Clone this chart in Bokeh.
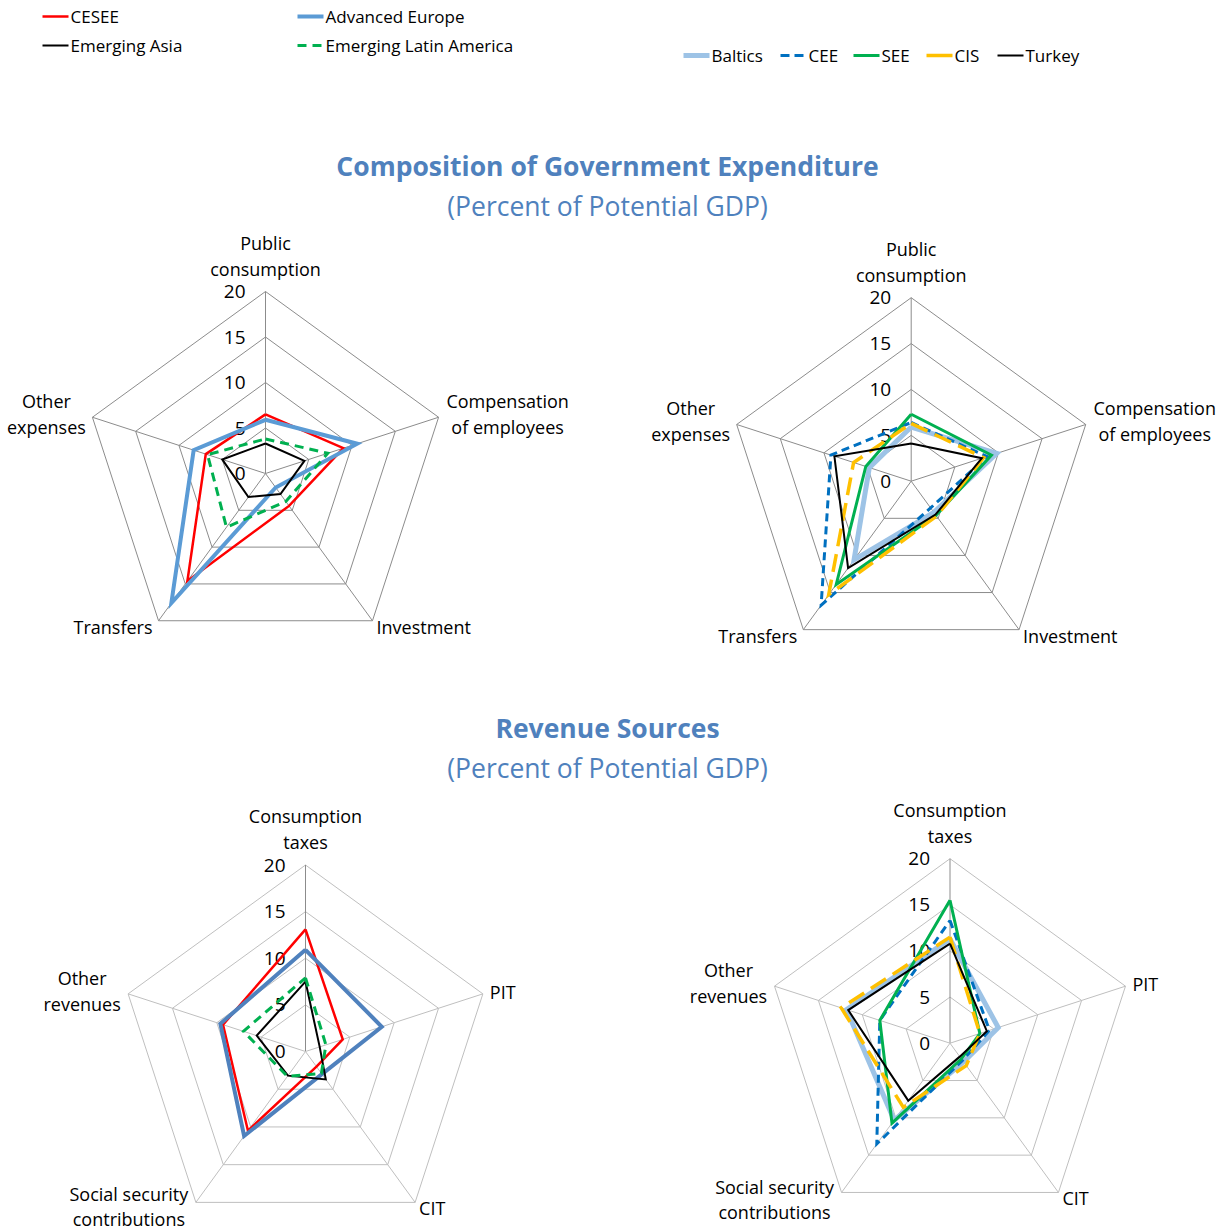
import numpy as np
from bokeh.plotting import figure
from bokeh.models import Range1d
from bokeh.embed import file_html
from bokeh.resources import INLINE
from bokeh.core.properties import value

# ---------------- data ----------------
exp_axes = ["Public\nconsumption", "Compensation\nof employees", "Investment", "Transfers", "Other\nexpenses"]
rev_axes = ["Consumption\ntaxes", "PIT", "CIT", "Social security\ncontributions", "Other\nrevenues"]
tick_vals = [0, 5, 10, 15, 20]
tick_labels = ["0", "5", "10", "15", "20"]

# Expenditure (percent of potential GDP) - regional comparison
exp_cesee = [6.5, 9.0, 4.4, 14.6, 6.9]
exp_adv_europe = [5.9, 10.6, 1.9, 17.6, 8.3]
exp_em_asia = [3.3, 4.5, 2.8, 3.2, 5.0]
exp_em_latam = [3.8, 7.2, 3.8, 7.3, 6.7]

# Expenditure - CESEE subregions
exp_baltics = [5.9, 9.8, 4.2, 10.6, 4.8]
exp_cee = [6.4, 8.7, 3.6, 16.7, 9.2]
exp_see = [7.3, 9.2, 4.6, 13.9, 5.2]
exp_cis = [6.3, 8.3, 4.7, 15.3, 6.6]
exp_turkey = [4.1, 8.1, 4.5, 11.7, 8.8]

# Revenue - regional comparison
rev_cesee = [13.1, 4.2, 2.0, 10.5, 9.3]
rev_adv_europe = [10.9, 8.6, 3.0, 11.2, 9.6]
rev_em_asia = [7.5, 1.6, 3.7, 3.2, 5.5]
rev_em_latam = [7.9, 2.3, 2.9, 3.3, 7.0]

# Revenue - CESEE subregions
rev_baltics = [11.3, 5.5, 2.5, 10.3, 11.8]
rev_cee = [13.3, 4.5, 2.3, 13.5, 8.0]
rev_see = [15.5, 3.4, 2.1, 10.7, 8.0]
rev_cis = [11.5, 3.4, 3.0, 8.6, 12.4]
rev_turkey = [10.8, 4.2, 1.8, 7.7, 11.6]

# ---------------- styles ----------------
FONT = "Open Sans"
TITLE_COLOR = "#4F81BD"
S = {
    "CESEE": dict(color="#FF0000", width=2.5, dash="solid"),
    "Advanced Europe": dict(color="#5B9BD5", width=4, dash="solid"),
    "Advanced Europe b": dict(color="#4F81BD", width=4, dash="solid"),
    "Emerging Asia": dict(color="#000000", width=2, dash="solid"),
    "Emerging Latin America": dict(color="#00B050", width=3, dash="9 6"),
    "Baltics": dict(color="#9DC3E6", width=5, dash="solid"),
    "CEE": dict(color="#0070C0", width=3, dash="8 5"),
    "SEE": dict(color="#00B050", width=3, dash="solid"),
    "CIS": dict(color="#FFC000", width=3.5, dash="18 8"),
    "Turkey": dict(color="#000000", width=2, dash="solid"),
}

W, H = 1228, 1231
p = figure(width=W, height=H, output_backend="svg", toolbar_location=None,
           x_range=Range1d(0, W), y_range=Range1d(H, 0),
           min_border=0, outline_line_color=None)
p.axis.visible = False
p.grid.visible = False
p.background_fill_color = "white"

ang = np.deg2rad(90 - 72 * np.arange(5))


def pt(cx, cy, R, r, k):
    return cx + R * r / 20.0 * np.cos(ang[k]), cy - R * r / 20.0 * np.sin(ang[k])


def txt(x, y, s, size=18, align="left", baseline="middle", color="#000000", bold=False):
    p.text(x=[x], y=[y], text=[s], text_font=value(FONT), text_font_size=f"{size}px",
           text_align=align, text_baseline=baseline, text_color=color,
           text_font_style="bold" if bold else "normal")


def radar(cx, cy, R, axes, series, grid_col, spoke_top_col, ss_dy=(-7, 19)):
    # grid rings
    for t in tick_vals[1:]:
        xs = [pt(cx, cy, R, t, k)[0] for k in list(range(5)) + [0]]
        ys = [pt(cx, cy, R, t, k)[1] for k in list(range(5)) + [0]]
        p.line(xs, ys, line_color=grid_col, line_width=1)
    # spokes
    for k in range(5):
        x1, y1 = pt(cx, cy, R, 20, k)
        p.line([cx, x1], [cy, y1], line_color=spoke_top_col if k == 0 else grid_col, line_width=1)
    # tick labels
    for t, lab in zip(tick_vals, tick_labels):
        txt(cx - 20, cy - R * t / 20.0, lab, size=19, align="right")
    # category labels
    for k, lab in enumerate(axes):
        vx, vy = pt(cx, cy, R, 20, k)
        lines = lab.split("\n")
        if k == 0:
            for i, ln in enumerate(lines):
                txt(vx, vy - 49 + 26 * i, ln, align="center")
        elif k == 1:
            if len(lines) == 2:
                for i, ln in enumerate(lines):
                    txt(vx + 69, vy - 16 + 26 * i, ln, align="center")
            else:
                txt(vx + 7, vy - 2, lines[0], align="left")
        elif k == 2:
            txt(vx + 4, vy + 6, lines[0], align="left")
        elif k == 3:
            if len(lines) == 2:
                for i, ln in enumerate(lines):
                    txt(vx - 67, vy + ss_dy[i], ln, align="center")
            else:
                txt(vx - 6, vy + 6, lines[0], align="right")
        else:
            for i, ln in enumerate(lines):
                txt(vx - 46, vy - 16 + 26 * i, ln, align="center")
    # data series
    for name, vals in series:
        st = S[name]
        xs = [pt(cx, cy, R, vals[k], k)[0] for k in list(range(5)) + [0]]
        ys = [pt(cx, cy, R, vals[k], k)[1] for k in list(range(5)) + [0]]
        p.line(xs, ys, line_color=st["color"], line_width=st["width"], line_dash=st["dash"],
               line_join="miter")


radar(265, 473, 182, exp_axes,
      [("CESEE", exp_cesee), ("Advanced Europe", exp_adv_europe),
       ("Emerging Asia", exp_em_asia), ("Emerging Latin America", exp_em_latam)],
      "#8C8C8C", "#8C8C8C")
radar(910.7, 480.7, 183.5, exp_axes,
      [("Baltics", exp_baltics), ("CEE", exp_cee), ("SEE", exp_see),
       ("CIS", exp_cis), ("Turkey", exp_turkey)],
      "#8C8C8C", "#8C8C8C")
radar(305, 1051, 186.5, rev_axes,
      [("CESEE", rev_cesee), ("Advanced Europe b", rev_adv_europe),
       ("Emerging Asia", rev_em_asia), ("Emerging Latin America", rev_em_latam)],
      "#BFBFBF", "#8C8C8C", ss_dy=(-8, 17))
radar(949.5, 1042.7, 184.5, rev_axes,
      [("Baltics", rev_baltics), ("CEE", rev_cee), ("SEE", rev_see),
       ("CIS", rev_cis), ("Turkey", rev_turkey)],
      "#BFBFBF", "#8C8C8C", ss_dy=(-5, 20))

# titles
txt(607, 165, "Composition of Government Expenditure", size=26.5, align="center", color=TITLE_COLOR, bold=True)
txt(607, 205, "(Percent of Potential GDP)", size=26.5, align="center", color=TITLE_COLOR)
txt(607, 727, "Revenue Sources", size=26.5, align="center", color=TITLE_COLOR, bold=True)
txt(607, 767, "(Percent of Potential GDP)", size=26.5, align="center", color=TITLE_COLOR)

# legends (legend swatches: long dash shown as a single stroke, as in the source)
LEG_DASH = {"CIS": "26 8", "CEE": "9 5", "Emerging Latin America": "9 6"}
leg1 = [("CESEE", 42, 16), ("Advanced Europe", 297, 16),
        ("Emerging Asia", 42, 45), ("Emerging Latin America", 297, 45)]
for name, x0, y0 in leg1:
    st = S[name]
    p.line([x0, x0 + 26], [y0, y0], line_color=st["color"], line_width=st["width"],
           line_dash=LEG_DASH.get(name, st["dash"]))
    txt(x0 + 28, y0, name, size=17)

leg2 = [("Baltics", 683), ("CEE", 780), ("SEE", 853), ("CIS", 926), ("Turkey", 997)]
for name, x0 in leg2:
    st = S[name]
    p.line([x0, x0 + 26], [55, 55], line_color=st["color"], line_width=st["width"],
           line_dash=LEG_DASH.get(name, st["dash"]))
    txt(x0 + 28, 55, name, size=17)

open("out.html", "w").write(file_html(p, INLINE))
